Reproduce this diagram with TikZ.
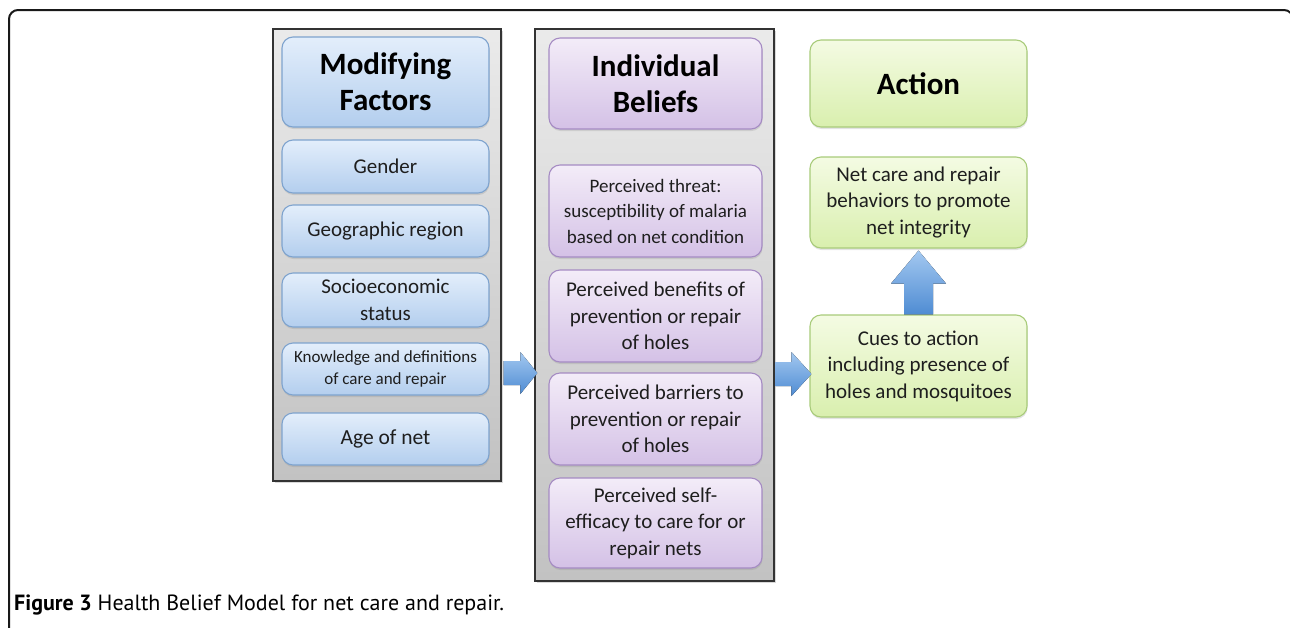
\documentclass[tikz,border=0pt]{standalone}
\usepackage{fontspec}
\setmainfont{Carlito}
\newfontfamily\capfont{PT Sans}
\usetikzlibrary{shadows,calc}
\definecolor{bluetop}{HTML}{E3EEFB}
\definecolor{bluebot}{HTML}{B3CEEE}
\definecolor{blueline}{HTML}{7EA3CE}
\definecolor{purptop}{HTML}{F3ECF8}
\definecolor{purpbot}{HTML}{D4C1E6}
\definecolor{purpline}{HTML}{A58BC3}
\definecolor{greentop}{HTML}{F4FBE3}
\definecolor{greenbot}{HTML}{D9EFAE}
\definecolor{greenline}{HTML}{A8CB7A}
\definecolor{arrtop}{HTML}{A3C8F0}
\definecolor{arrbot}{HTML}{4F8CD3}
\definecolor{txt}{HTML}{1E1E1E}
\tikzset{
  panel/.style={draw=black!80, line width=1.3pt, top color=black!8, bottom color=black!24,
    drop shadow={opacity=0.3, shadow xshift=1.5pt, shadow yshift=-1.5pt}},
  boxbase/.style={rounded corners=11pt, line width=1.1pt, align=center, inner sep=0pt,
    text=txt, drop shadow={opacity=0.22, shadow xshift=0.5pt, shadow yshift=-2pt}},
  bbox/.style={boxbase, draw=blueline, top color=bluetop, bottom color=bluebot},
  pbox/.style={boxbase, draw=purpline, top color=purptop, bottom color=purpbot},
  gbox/.style={boxbase, draw=greenline, top color=greentop, bottom color=greenbot},
  titlef/.style={font=\fontsize{31}{36}\selectfont\bfseries, text=black},
  bodyf/.style={font=\fontsize{21}{26.5}\selectfont},
  smallf/.style={font=\fontsize{17}{22}\selectfont},
  blockarrow/.style={top color=arrtop, bottom color=arrbot, draw=none}
}
\begin{document}
\begin{tikzpicture}[x=1pt,y=-1pt]
\useasboundingbox (0,0) rectangle (1290,627);
\clip (0,0) rectangle (1290,627);
% outer frame
\draw[line width=2pt, black!90, rounded corners=9pt] (9,650) -- (9,10) -- (1293,10) -- (1293,650);

% panels
\node[panel, minimum width=228pt, minimum height=452pt] (p1) at (387,255) {};
\node[panel, minimum width=239pt, minimum height=552pt] (p2) at (654.5,305) {};

% modifying factors
\node[bbox, titlef, minimum width=207pt, minimum height=90pt] (mf) at (385.5,82) {Modifying\\Factors};
\node[bbox, bodyf, minimum width=207pt, minimum height=53pt] (gen) at (385.5,166.5) {Gender};
\node[bbox, bodyf, minimum width=207pt, minimum height=52pt] (geo) at (385.5,231) {Geographic region};
\node[bbox, bodyf, minimum width=207pt, minimum height=54pt] (soc) at (385.5,300) {Socioeconomic\\status};
\node[bbox, smallf, minimum width=207pt, minimum height=52pt] (kno) at (385.5,369) {Knowledge and definitions\\of care and repair};
\node[bbox, font=\fontsize{21.5}{26}\selectfont, minimum width=207pt, minimum height=52pt] (age) at (385.5,439) {Age of net};

% individual beliefs
\node[pbox, titlef, minimum width=213pt, minimum height=91pt] (ib) at (655.5,83.5) {Individual\\Beliefs};
\node[pbox, font=\fontsize{19}{25.5}\selectfont, minimum width=213pt, minimum height=92pt] (thr) at (655.5,211) {Perceived threat:\\susceptibility of malaria\\based on net condition};
\node[pbox, bodyf, minimum width=213pt, minimum height=92pt] (ben) at (655.5,316) {Perceived benefits of\\prevention or repair\\of holes};
\node[pbox, bodyf, minimum width=213pt, minimum height=92pt] (bar) at (655.5,419) {Perceived barriers to\\prevention or repair\\of holes};
\node[pbox, bodyf, minimum width=213pt, minimum height=90pt] (slf) at (655.5,523) {Perceived self-\\efficacy to care for or\\repair nets};

% action
\node[gbox, titlef, minimum width=217pt, minimum height=87pt] (act) at (918.5,83.5) {Action};
\node[gbox, bodyf, minimum width=217pt, minimum height=91pt] (net) at (918.5,202.5) {Net care and repair\\behaviors to promote\\net integrity};
\node[gbox, bodyf, minimum width=217pt, minimum height=102pt] (cue) at (918.5,366) {Cues to action\\including presence of\\holes and mosquitoes};

% arrow 1: panel 1 -> panel 2
\coordinate (a1s) at ($(p1.east |- 0,373)+(2,0)$);
\coordinate (a1e) at ($(p2.west |- 0,373)+(3,0)$);
\fill[blockarrow] ($(a1s)+(0,-12)$) -- ($(a1e)+(-17,-12)$) -- ($(a1e)+(-17,-21)$) -- (a1e)
  -- ($(a1e)+(-17,21)$) -- ($(a1e)+(-17,12)$) -- ($(a1s)+(0,12)$) -- cycle;

% arrow 2: panel 2 -> cues
\coordinate (a2s) at ($(p2.east |- 0,374)+(1,0)$);
\coordinate (a2e) at ($(cue.west |- 0,374)+(2,0)$);
\fill[blockarrow] ($(a2s)+(0,-12)$) -- ($(a2e)+(-20,-12)$) -- ($(a2e)+(-20,-22)$) -- (a2e)
  -- ($(a2e)+(-20,22)$) -- ($(a2e)+(-20,12)$) -- ($(a2s)+(0,12)$) -- cycle;

% arrow 3: cues -> net care (up)
\coordinate (a3s) at (cue.north);
\coordinate (a3e) at ($(net.south)+(0,2)$);
\fill[blockarrow] ($(a3s)+(-14.5,0)$) -- ($(a3e)+(-14.5,33)$) -- ($(a3e)+(-27.5,33)$) -- (a3e)
  -- ($(a3e)+(27.5,33)$) -- ($(a3e)+(14.5,33)$) -- ($(a3s)+(14.5,0)$) -- cycle;

% caption
\node[anchor=base west, inner sep=0pt, font=\capfont\fontsize{22}{24}\selectfont, text=black] (cap) at (14,610)
  {\textbf{Figure 3} Health Belief Model for net care and repair.};
\end{tikzpicture}
\end{document}
